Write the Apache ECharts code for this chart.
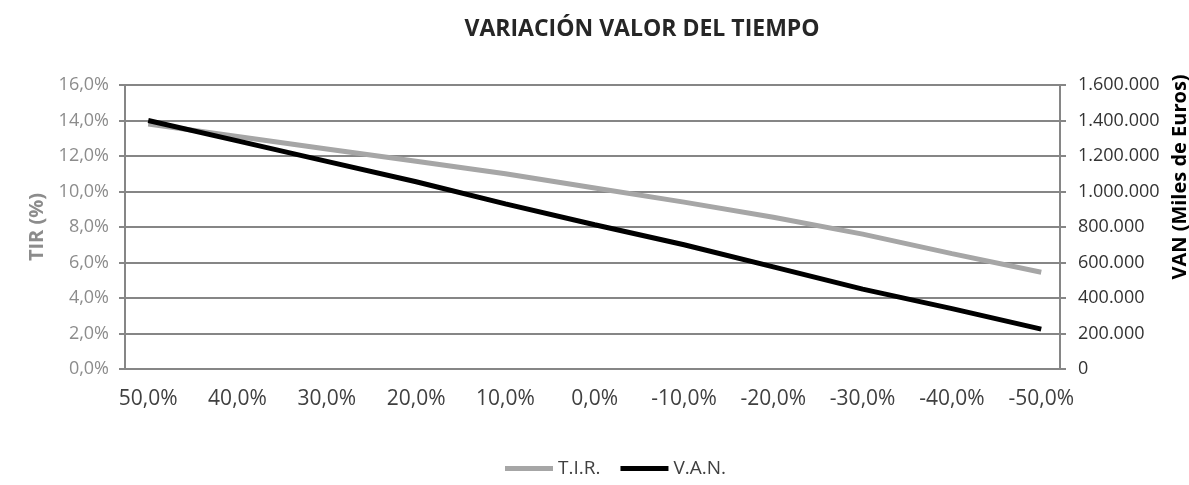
<!DOCTYPE html>
<html>
<head>
<meta charset="utf-8">
<script src="https://cdn.jsdelivr.net/npm/echarts@6/dist/echarts.min.js"></script>
<style>
  html, body { margin: 0; padding: 0; background: #fff; }
  #chart { width: 1189px; height: 485px; }
</style>
</head>
<body>
<div id="chart"></div>
<script>
// Variación (%) on the x axis
const changes = [50, 40, 30, 20, 10, 0, -10, -20, -30, -40, -50];
const tir = [13.8, 13.1, 12.4, 11.7, 11.0, 10.2, 9.4, 8.55, 7.6, 6.5, 5.45];
const van = [1400000, 1285000, 1170000, 1055000, 930000, 813000, 700000, 575000, 450000, 340000, 225000];

const fmtPct = v => (v === 0 ? '0,0' : v.toFixed(1).replace('.', ',')) + '%';
const fmtThousands = v => String(v).replace(/\B(?=(\d{3})+(?!\d))/g, '.');

let chart = echarts.init(document.getElementById('chart'));
chart.setOption({
    backgroundColor: '#fff',
    textStyle: { fontFamily: 'Open Sans' },
    title: {
        text: 'VARIACIÓN VALOR DEL TIEMPO',
        left: 637,
        textAlign: 'center',
        top: 13,
        textStyle: { fontSize: 23, fontWeight: 'bold', color: '#262626', fontFamily: 'Open Sans' }
    },
    legend: {
        bottom: 2,
        left: 500,
        itemWidth: 48,
        itemHeight: 5,
        itemGap: 20,
        textStyle: { fontSize: 19, color: '#404040' },
        data: [
            { name: 'T.I.R.', icon: 'rect' },
            { name: 'V.A.N.', icon: 'rect' }
        ]
    },
    grid: {
        left: 125,
        right: 129,
        top: 85,
        bottom: 116,
        outerBoundsMode: 'none'
    },
    xAxis: {
        type: 'value',
        inverse: true,
        min: -52.1,
        max: 52.6,
        axisLine: { show: true, lineStyle: { color: '#868686', width: 2 } },
        axisTick: { show: false },
        splitLine: { show: false },
        axisLabel: {
            customValues: changes,
            formatter: fmtPct,
            fontSize: 21,
            color: '#404040',
            margin: 20
        }
    },
    yAxis: [{
        type: 'value',
        name: 'TIR (%)',
        nameLocation: 'middle',
        nameGap: 78,
        nameTextStyle: { fontSize: 20, fontWeight: 'bold', color: '#8c8c8c' },
        min: 0,
        max: 16,
        interval: 2,
        axisLine: { show: true, onZero: false, lineStyle: { color: '#868686', width: 2 } },
        axisTick: { show: true, length: 6, lineStyle: { color: '#868686', width: 2 } },
        axisLabel: { formatter: fmtPct, fontSize: 18, color: '#8c8c8c', margin: 16 },
        splitLine: { show: true, lineStyle: { color: '#868686', width: 2 } }
    }, {
        type: 'value',
        name: 'VAN (Miles de Euros)',
        nameLocation: 'middle',
        nameGap: 110,
        nameTextStyle: { fontSize: 20, fontWeight: 'bold', color: '#000', padding: [0, 0, 0, 100] },
        position: 'right',
        min: 0,
        max: 1600000,
        interval: 200000,
        axisLine: { show: true, onZero: false, lineStyle: { color: '#868686', width: 2 } },
        axisTick: { show: true, length: 6, lineStyle: { color: '#868686', width: 2 } },
        axisLabel: { formatter: fmtThousands, fontSize: 18, color: '#333', margin: 18 },
        splitLine: { show: false }
    }],
    series: [{
        name: 'T.I.R.',
        type: 'line',
        yAxisIndex: 0,
        data: changes.map((c, i) => [c, tir[i]]),
        symbol: 'none',
        color: '#a6a6a6',
        lineStyle: { color: '#a6a6a6', width: 5 }
    }, {
        name: 'V.A.N.',
        type: 'line',
        yAxisIndex: 1,
        data: changes.map((c, i) => [c, van[i]]),
        symbol: 'none',
        color: '#000',
        lineStyle: { color: '#000', width: 5 }
    }]
});
</script>
</body>
</html>
